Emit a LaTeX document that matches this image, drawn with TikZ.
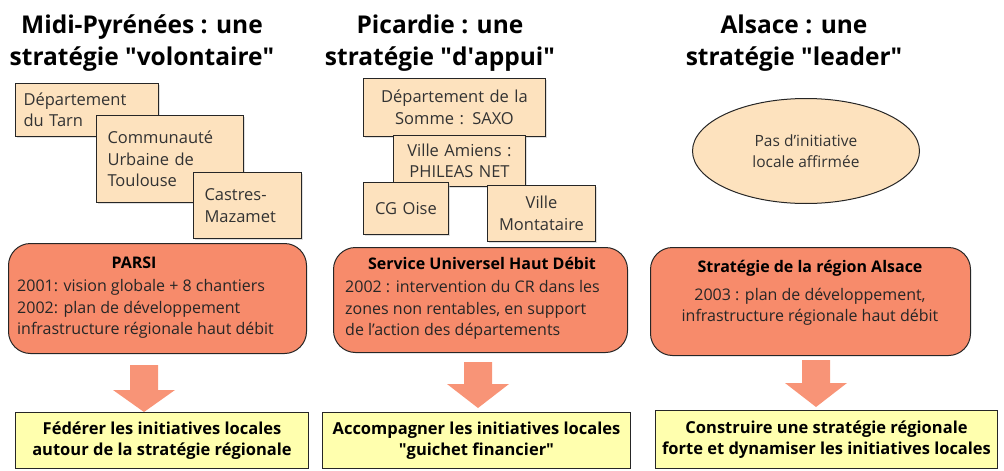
\documentclass[tikz,border=0pt]{standalone}
\usepackage{fontspec}
\setmainfont{Open Sans}
\usetikzlibrary{positioning,shapes.geometric,shadows}
\definecolor{peach}{HTML}{FDE2BE}
\definecolor{salmon}{HTML}{F78B6B}
\definecolor{pale}{HTML}{FFFFAE}
\newcommand{\fatarrow}[4]{% x, top, head, tip
  \fill[salmon!92!white] (#1-14,#2) -- (#1+14,#2) -- (#1+14,#3) -- (#1+31,#3)
    -- (#1,#4) -- (#1-31,#3) -- (#1-14,#3) -- cycle;
}
\tikzset{
  title/.style={font=\bfseries\fontsize{24.5}{32}\selectfont,align=center,inner sep=0pt},
  local/.style={draw=black!85,line width=1pt,fill=peach,anchor=north west,text=black!80,
                font=\fontsize{16.5}{21.5}\selectfont,inner xsep=8pt,
                drop shadow={shadow xshift=1.5pt,shadow yshift=-1.5pt,fill=black!25}},
  region/.style={draw=black!85,line width=1pt,fill=salmon,rounded corners=22pt,
                 anchor=north west},
  regionhead/.style={font=\bfseries\fontsize{16}{21.5}\selectfont,inner sep=0pt},
  regionbody/.style={font=\fontsize{16}{21.5}\selectfont,inner sep=0pt,text=black!85},
  goal/.style={draw=black!85,line width=1pt,fill=pale,anchor=north west,align=center,
               font=\bfseries\fontsize{16.5}{21.5}\selectfont}
}

\begin{document}
\begin{tikzpicture}[x=1pt,y=-1pt]
  \useasboundingbox (0,0) rectangle (1004,471);
  % titles
  \node[title] (tmidi) at (142,43) {Midi-Pyrénées : une\\stratégie \textquotedbl volontaire\textquotedbl};
  \node[title] (tpic)  at (440,43) {Picardie : une\\stratégie \textquotedbl d\textquotesingle appui\textquotedbl};
  \node[title] (talsa) at (794,43) {Alsace : une\\stratégie \textquotedbl leader\textquotedbl};

  % Midi-Pyrenees
  \node[local,minimum width=143pt,minimum height=53pt,text width=127pt,align=left]
        (tarn) at (15,83) {Département\\du Tarn};
  \node[local,minimum width=144pt,minimum height=87pt,text width=125pt,align=left,inner xsep=11pt]
        (toulouse) at (96,115) {Communauté\\Urbaine de\\Toulouse};
  \node[local,minimum width=108pt,minimum height=66pt,text width=86pt,align=left,inner xsep=11pt]
        (castres) at (193,172) {Castres-\\Mazamet};

  % Picardie
  \node[local,minimum width=182pt,minimum height=58pt,text width=166pt,align=center]
        (somme) at (363,78) {Département de la\\Somme : SAXO};
  \node[local,minimum width=132pt,minimum height=51pt,text width=116pt,align=center]
        (amiens) at (393,135) {Ville Amiens :\\PHILEAS NET};
  \node[local,minimum width=85pt,minimum height=52pt,text width=69pt,align=center]
        (oise) at (363,182) {CG Oise};
  \node[local,minimum width=108pt,minimum height=56pt,text width=92pt,align=center]
        (montataire) at (487,185) {Ville\\Montataire};

  % Alsace
  \node[ellipse,draw=black!85,line width=1pt,fill=peach,inner sep=0pt,
        minimum width=227pt,minimum height=105pt,align=center,text=black!80,
        font=\fontsize{15.5}{21.5}\selectfont] (affirm) at (806,151)
        {Pas d'initiative\\locale affirmée};

  % regional strategies
  \node[region,minimum width=298pt,minimum height=110pt] (parsi) at (8,243) {};
  \node[regionhead] (parsihead) at (134,263) {PARSI};
  \node[regionbody,anchor=west,align=left] (parsibody) at (17,309)
        {2001: vision globale + 8 chantiers\\2002: plan de développement\\infrastructure régionale haut débit};

  \node[region,minimum width=294pt,minimum height=105pt] (suhd) at (333,247) {};
  \node[regionhead] (suhdhead) at (482,263) {Service Universel Haut Débit};
  \node[regionbody,anchor=west,align=left] (suhdbody) at (345,310)
        {2002 : intervention du CR dans les\\zones non rentables, en support\\de l'action des départements};

  \node[region,minimum width=320pt,minimum height=108pt] (salsa) at (650,247) {};
  \node[regionhead] (salsahead) at (810,268) {Stratégie de la région Alsace};
  \node[regionbody,align=center] (salsabody) at (810,307)
        {2003 : plan de développement,\\infrastructure régionale haut débit};

  % arrows
  \fatarrow{144}{365}{390}{412}
  \fatarrow{478}{362}{384}{408}
  \fatarrow{816}{360}{383}{407}

  % goals
  \node[goal,minimum width=293pt,minimum height=56pt] (federer) at (15,412)
        {Fédérer les initiatives locales\\autour de la stratégie régionale};
  \node[goal,minimum width=308pt,minimum height=56pt] (accomp) at (322,412)
        {Accompagner les initiatives locales\\\textquotedbl guichet financier\textquotedbl};
  \node[goal,minimum width=342pt,minimum height=58pt] (constr) at (655,410)
        {Construire une stratégie régionale\\forte et dynamiser les initiatives locales};
\end{tikzpicture}
\end{document}
